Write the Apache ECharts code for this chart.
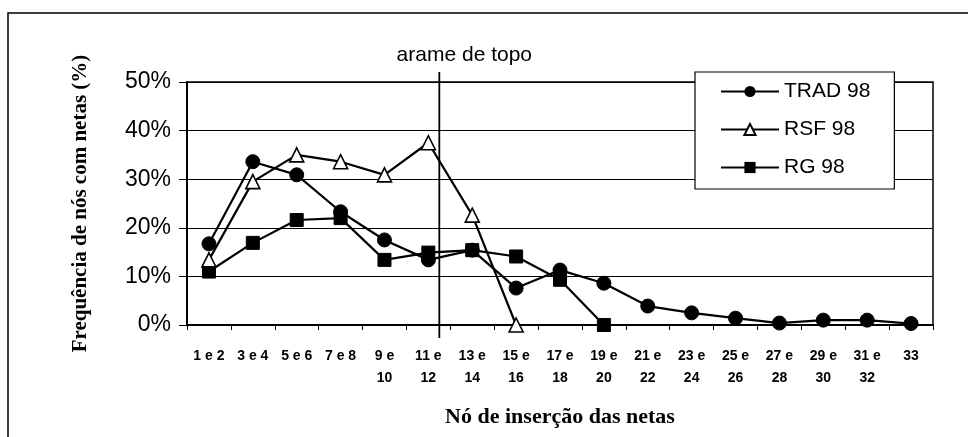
<!DOCTYPE html>
<html>
<head>
<meta charset="utf-8">
<script src="https://cdn.jsdelivr.net/npm/echarts@6/dist/echarts.min.js"></script>
<style>
html,body{margin:0;padding:0;background:#fff;}
#chart{width:968px;height:437px;}
</style>
</head>
<body>
<div id="chart"></div>
<script>
// ---- data ----
const categories = ['1 e 2','3 e 4','5 e 6','7 e 8','9 e\n10','11 e\n12','13 e\n14','15 e\n16','17 e\n18','19 e\n20','21 e\n22','23 e\n24','25 e\n26','27 e\n28','29 e\n30','31 e\n32','33'];
const trad98 = [16.7, 33.6, 30.9, 23.3, 17.5, 13.4, 15.4, 7.6, 11.3, 8.6, 3.9, 2.5, 1.4, 0.4, 1.0, 1.0, 0.3];
const rsf98  = [13.4, 29.5, 35.0, 33.6, 30.9, 37.5, 22.6, 0.0, null, null, null, null, null, null, null, null, null];
const rg98   = [11.0, 16.9, 21.6, 22.0, 13.4, 14.9, 15.4, 14.1, 9.3, 0.0, null, null, null, null, null, null, null];
const seriesNames = ['TRAD 98', 'RSF 98', 'RG 98'];
const yTicks = [0, 10, 20, 30, 40, 50];
const topWireNode = 12;           // "arame de topo" position (node number)
const topWireLabel = 'arame de topo';

const chart = echarts.init(document.getElementById('chart'), null, {renderer: 'canvas'});

const lineStyle = {color: '#000', width: 2.2};
const option = {
  animation: false,
  backgroundColor: '#fff',
  grid: {left: 187, right: 35, top: 82, bottom: 112, show: true, borderColor: '#000', borderWidth: 1.5, backgroundColor: 'transparent'},
  legend: {
    orient: 'vertical', left: 695, top: 72,
    data: seriesNames,
    backgroundColor: '#fff', borderColor: '#000', borderWidth: 1.2,
    padding: [9, 24, 11, 25],
    itemWidth: 58, itemHeight: 14, itemGap: 17,
    textStyle: {fontFamily: 'Liberation Sans, Arial', fontSize: 21, color: '#000'}
  },
  xAxis: [{
    type: 'category', data: categories, boundaryGap: true,
    axisLine: {lineStyle: {color: '#000', width: 2}},
    axisTick: {show: true, interval: 0, length: 5, lineStyle: {color: '#000'}},
    axisLabel: {interval: 0, fontFamily: 'Liberation Sans, Arial', fontWeight: 'bold', fontSize: 14, color: '#000', lineHeight: 22, margin: 20},
    name: 'Nó de inserção das netas', nameLocation: 'middle', nameGap: 81,
    nameTextStyle: {fontFamily: 'Liberation Serif, Times New Roman', fontWeight: 'bold', fontSize: 22, color: '#000'}
  }, {
    type: 'value', min: 0.5, max: 34.5, show: false
  }],
  yAxis: {
    type: 'value', min: yTicks[0], max: yTicks[yTicks.length - 1], interval: yTicks[1] - yTicks[0],
    axisLine: {show: true, lineStyle: {color: '#000', width: 2}},
    axisTick: {show: true, length: 8, lineStyle: {color: '#000'}},
    splitLine: {show: true, lineStyle: {color: '#000', width: 1.2}},
    axisLabel: {formatter: '{value}%', fontFamily: 'Liberation Sans, Arial', fontSize: 23, color: '#000', margin: 16},
    name: 'Frequência de nós com netas (%)', nameLocation: 'middle', nameGap: 96,
    nameTextStyle: {fontFamily: 'Liberation Serif, Times New Roman', fontWeight: 'bold', fontSize: 21, color: '#000'}
  },
  series: [
    {name: seriesNames[0], type: 'line', data: trad98, symbol: 'circle', symbolSize: 14,
     lineStyle: lineStyle, itemStyle: {color: '#000', borderColor: '#000'}, z: 3},
    {name: seriesNames[1], type: 'line', data: rsf98, symbol: 'triangle', symbolSize: 14,
     lineStyle: lineStyle, itemStyle: {color: '#fff', borderColor: '#000', borderWidth: 1.6}, z: 4},
    {name: seriesNames[2], type: 'line', data: rg98, symbol: 'rect', symbolSize: 13,
     lineStyle: lineStyle, itemStyle: {color: '#000', borderColor: '#000'}, z: 2}
  ]
};
chart.setOption(option);

const wx = chart.convertToPixel({xAxisIndex: 1}, topWireNode);
const yTop = chart.convertToPixel({yAxisIndex: 0}, yTicks[yTicks.length - 1]);
const yBot = chart.convertToPixel({yAxisIndex: 0}, yTicks[0]);
chart.setOption({
  graphic: [
    {type: 'rect', shape: {x: 8, y: 13, width: 1000, height: 500}, style: {fill: 'none', stroke: '#000', lineWidth: 1.5}, silent: true},
    {type: 'line', shape: {x1: wx, y1: yTop - 10, x2: wx, y2: yBot + 13}, style: {stroke: '#000', lineWidth: 1.8}, z: 1, silent: true},
    {type: 'text', x: wx + 25, y: yTop - 27, style: {text: topWireLabel, fontFamily: 'Liberation Sans, Arial', fontSize: 21, fill: '#000', align: 'center', verticalAlign: 'middle'}, silent: true}
  ]
});
</script>
</body>
</html>
